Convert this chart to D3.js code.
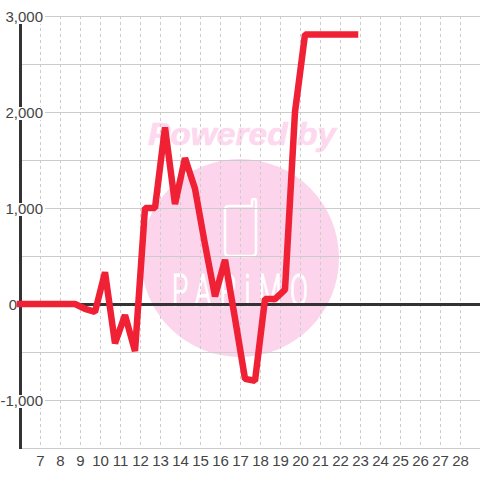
<!DOCTYPE html>
<html>

<head>
    <title>Line chart</title>
    <script src="https://d3js.org/d3.v7.min.js"></script>
    <style>
        html, body {
            margin: 0;
            background: #fff;
        }

        svg {
            display: block;
        }

        text {
            font-family: "Liberation Sans", sans-serif;
        }
    </style>
</head>

<body>
    <svg id="chart" width="480" height="480"></svg>

    <script>
        var xTicks = [7, 8, 9, 10, 11, 12, 13, 14, 15, 16, 17, 18, 19, 20, 21, 22, 23, 24, 25, 26, 27, 28];
        var yTicks = [3000, 2000, 1000, 0, -1000];
        var yTickLabels = ["3,000", "2,000", "1,000", "0", "-1,000"];
        var yGrid = [3000, 2500, 2000, 1500, 1000, 500, -500, -1000, -1500];
        var xValues = [6, 6.75, 7.25, 7.75, 8.25, 8.75, 9.25, 9.75, 10.25, 10.75, 11.25, 11.75, 12.25, 12.75, 13.25, 13.75, 14.25, 14.75, 15.25, 15.75, 16.25, 16.75, 17.25, 17.75, 18.25, 18.75, 19.25, 19.75, 20.25, 20.75, 21.25, 21.75, 22.25, 22.75];
        var yValues = [0, 0, 0, 0, 0, 0, -50, -83, 330, -410, -115, -490, 1000, 1000, 1840, 1040, 1520, 1200, 620, 80, 460, -150, -780, -800, 52, 52, 150, 2000, 2807, 2807, 2807, 2807, 2807, 2807];

        var svg = d3.select("#chart");

        var x = d3.scaleLinear().domain([6, 29]).range([20, 480]);
        var y = d3.scaleLinear().domain([-1500, 3000]).range([448, 16]);

        // watermark
        var mark = svg.append("g");
        mark.append("circle")
            .attr("cx", 240)
            .attr("cy", 258)
            .attr("r", 99)
            .attr("fill", "#fcd4ec");
        mark.append("text")
            .attr("x", 148)
            .attr("y", 145)
            .attr("textLength", 188)
            .attr("lengthAdjust", "spacingAndGlyphs")
            .style("font-size", "31px")
            .style("font-weight", "bold")
            .style("font-style", "italic")
            .attr("fill", "#fdd8ee")
            .attr("stroke", "#fdd8ee")
            .attr("stroke-width", 0.6)
            .text("Powered by");
        mark.append("path")
            .attr("d", "M229,206 H252 V201 Q252,199 254,199 Q256,199 256,201 V252 Q256,256 252,256 H229 Q225,256 225,252 V210 Q225,206 229,206")
            .attr("fill", "none")
            .attr("stroke", "#fff")
            .attr("stroke-width", 2.5);
        mark.append("text")
            .attr("transform", "translate(172,306) scale(0.6,1)")
            .style("font-family", "Roboto, sans-serif")
            .style("font-size", "44px")
            .style("font-weight", 300)
            .style("letter-spacing", "14px")
            .attr("fill", "#fff")
            .attr("stroke", "#fff")
            .attr("stroke-width", 1.2)
            .text("PAPiMO");

        // grid
        svg.append("g")
            .selectAll("line")
            .data(xTicks)
            .enter()
            .append("line")
            .attr("x1", d => x(d) + 0.5)
            .attr("x2", d => x(d) + 0.5)
            .attr("y1", y(3000))
            .attr("y2", y(-1500))
            .attr("stroke", "#ccc")
            .attr("stroke-width", 1)
            .attr("stroke-dasharray", "3,3");

        svg.append("g")
            .selectAll("line")
            .data(yGrid)
            .enter()
            .append("line")
            .attr("x1", 20)
            .attr("x2", 480)
            .attr("y1", d => y(d) + 0.5)
            .attr("y2", d => y(d) + 0.5)
            .attr("stroke", "#ccc")
            .attr("stroke-width", 1);

        // axis lines
        svg.append("line")
            .attr("x1", 20.5)
            .attr("x2", 20.5)
            .attr("y1", 16)
            .attr("y2", 449)
            .attr("stroke", "#333")
            .attr("stroke-width", 3);
        svg.append("line")
            .attr("x1", 20)
            .attr("x2", 480)
            .attr("y1", y(0) + 0.5)
            .attr("y2", y(0) + 0.5)
            .attr("stroke", "#333")
            .attr("stroke-width", 3);

        // y labels sit on a white box that cuts the axis and grid, the 0 one doesn't
        var yLabels = svg.append("g")
            .selectAll("g")
            .data(yTicks)
            .enter()
            .append("g");
        yLabels.filter(d => d !== 0)
            .append("rect")
            .attr("x", 2)
            .attr("y", d => y(d) - 5)
            .attr("width", 43)
            .attr("height", 13)
            .attr("fill", "#fff");
        yLabels.append("text")
            .attr("x", d => d === 0 ? 17 : 43)
            .attr("y", d => y(d) + 6)
            .attr("text-anchor", "end")
            .style("font-size", "15px")
            .attr("fill", "#444")
            .text((d, i) => yTickLabels[i]);

        svg.append("g")
            .selectAll("text")
            .data(xTicks)
            .enter()
            .append("text")
            .attr("x", d => x(d) + 0.5)
            .attr("y", 466)
            .attr("text-anchor", "middle")
            .style("font-size", "15px")
            .attr("fill", "#444")
            .text(d => d);

        // series
        var line = d3.line()
            .x(d => x(d[0]))
            .y(d => y(d[1]));

        svg.append("path")
            .datum(xValues.map((v, i) => [v, yValues[i]]))
            .attr("d", line)
            .attr("fill", "none")
            .attr("stroke", "#f02035")
            .attr("stroke-width", 6.5)
            .attr("stroke-linejoin", "bevel")
            .attr("stroke-linecap", "square");
    </script>
</body>

</html>
